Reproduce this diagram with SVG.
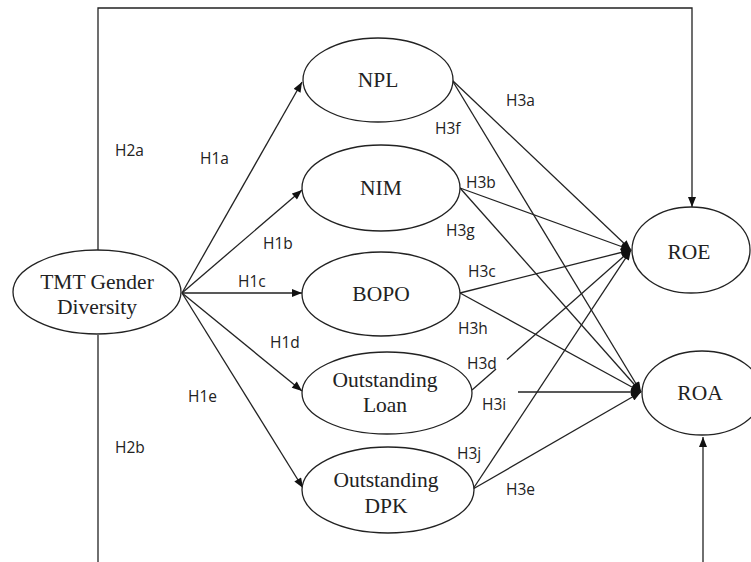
<svg xmlns="http://www.w3.org/2000/svg" width="751" height="562" viewBox="0 0 751 562">
<style>
.node ellipse{fill:#fff;stroke:#222;stroke-width:1.3}
.node text{font-family:"Liberation Serif","Times New Roman",serif;font-size:21.5px;fill:#222;text-anchor:middle}
.edges path{fill:none;stroke:#222;stroke-width:1.3}
.lbl{font-family:"Open Sans","Liberation Sans",sans-serif;font-size:15.5px;fill:#222}
</style>
<defs>
<marker id="ah" viewBox="0 0 10 8" refX="10" refY="4" markerWidth="11" markerHeight="8" orient="auto" markerUnits="userSpaceOnUse">
<path d="M0,0 L10,4 L0,8 z" fill="#111"/>
</marker>
</defs>
<rect width="751" height="562" fill="#fff"/>
<g id="connectors" class="edges">
<path d="M98,250 V8 H692 V207" marker-end="url(#ah)"/>
<path d="M98,335 V562"/>
<path d="M703,562 V437" marker-end="url(#ah)"/>
<path d="M182,293 L302,82" marker-end="url(#ah)"/>
<path d="M182,293 L302,190" marker-end="url(#ah)"/>
<path d="M182,293 L302,293" marker-end="url(#ah)"/>
<path d="M182,293 L302,391" marker-end="url(#ah)"/>
<path d="M182,293 L303,488" marker-end="url(#ah)"/>
<path d="M452,80 L631,250" marker-end="url(#ah)"/>
<path d="M460,188 L631,250" marker-end="url(#ah)"/>
<path d="M460,293 L631,250" marker-end="url(#ah)"/>
<path d="M472,390 L496,369"/>
<path d="M507,359.5 L631,250" marker-end="url(#ah)"/>
<path d="M473,489 L631,250" marker-end="url(#ah)"/>
<path d="M452,80 L641,392" marker-end="url(#ah)"/>
<path d="M460,188 L641,392" marker-end="url(#ah)"/>
<path d="M460,293 L641,392" marker-end="url(#ah)"/>
<path d="M518,392 L641,392" marker-end="url(#ah)"/>
<path d="M473,489 L641,392" marker-end="url(#ah)"/>
</g>
<g id="labels" class="lbl">
<text x="115" y="156">H2a</text>
<text x="200" y="164">H1a</text>
<text x="263" y="249">H1b</text>
<text x="238" y="287">H1c</text>
<text x="270" y="348">H1d</text>
<text x="188" y="402">H1e</text>
<text x="115" y="453">H2b</text>
<text x="506" y="106">H3a</text>
<text x="435" y="134">H3f</text>
<text x="466" y="188">H3b</text>
<text x="446" y="236">H3g</text>
<text x="468" y="277">H3c</text>
<text x="458" y="334">H3h</text>
<text x="467" y="369">H3d</text>
<text x="482" y="410">H3i</text>
<text x="457" y="459">H3j</text>
<text x="506" y="495">H3e</text>
</g>
<g id="tmt" class="node">
<ellipse cx="97" cy="292" rx="84" ry="42"/>
<text x="97" y="289">TMT Gender</text>
<text x="97" y="314">Diversity</text>
</g>
<g id="npl" class="node">
<ellipse cx="378" cy="80" rx="75" ry="42"/>
<text x="378" y="87">NPL</text>
</g>
<g id="nim" class="node">
<ellipse cx="381" cy="188" rx="79" ry="43"/>
<text x="381" y="195">NIM</text>
</g>
<g id="bopo" class="node">
<ellipse cx="381" cy="294" rx="79" ry="42"/>
<text x="381" y="301">BOPO</text>
</g>
<g id="loan" class="node">
<ellipse cx="387" cy="393" rx="85" ry="41"/>
<text x="385" y="387">Outstanding</text>
<text x="385" y="412">Loan</text>
</g>
<g id="dpk" class="node">
<ellipse cx="388" cy="490" rx="86" ry="43"/>
<text x="386" y="487">Outstanding</text>
<text x="386" y="513">DPK</text>
</g>
<g id="roe" class="node">
<ellipse cx="691" cy="250" rx="59" ry="43"/>
<text x="689" y="259">ROE</text>
</g>
<g id="roa" class="node">
<ellipse cx="702" cy="393" rx="60" ry="42"/>
<text x="700" y="400">ROA</text>
</g>
</svg>
